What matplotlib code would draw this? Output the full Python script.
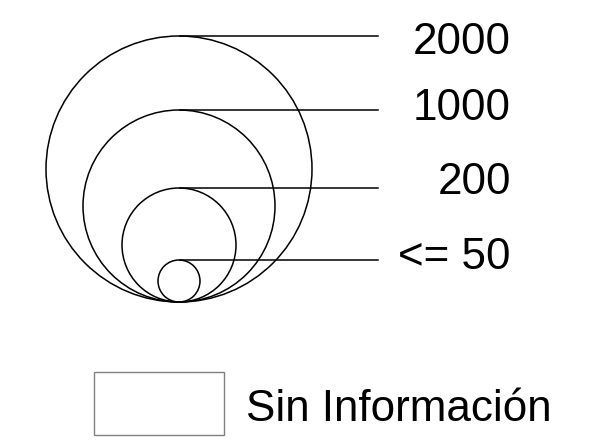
import matplotlib
matplotlib.use("Agg")
import matplotlib.pyplot as plt
from matplotlib.patches import Circle, Rectangle

# legend classes and the symbol radius read for each (pixels)
categories = ["2000", "1000", "200", "<= 50"]
symbol_radius = [133, 96, 57, 21]
no_data_label = "Sin Información"

plt.rcParams["font.family"] = ["Liberation Sans", "DejaVu Sans"]

fig = plt.figure(figsize=(5.91, 4.44), dpi=100)
ax = fig.add_axes([0, 0, 1, 1])
ax.set_xlim(0, 591)
ax.set_ylim(444, 0)
ax.set_aspect("equal")
ax.axis("off")

cx = 179
base_y = 302
line_end = 378
label_x = 511
baseline_shift = [17.5, 10, 5.5, 8.5]  # label baseline below its leader line
fs = 31.7
lw = 1.1

for label, r, dy in zip(categories, symbol_radius, baseline_shift):
    cy = base_y - r
    ax.add_patch(Circle((cx, cy), r, fill=False, edgecolor="black", linewidth=lw))
    top = base_y - 2 * r
    ax.plot([cx + 1, line_end], [top, top], color="black", linewidth=lw)
    ax.text(label_x, top + dy, label, fontsize=fs, ha="right", va="baseline")

ax.add_patch(Rectangle((94, 372), 130, 63, facecolor="white",
                       edgecolor="#808080", linewidth=1.0))
ax.text(246, 421, no_data_label, fontsize=fs, ha="left", va="baseline")

fig.savefig("out.png", dpi=100)
